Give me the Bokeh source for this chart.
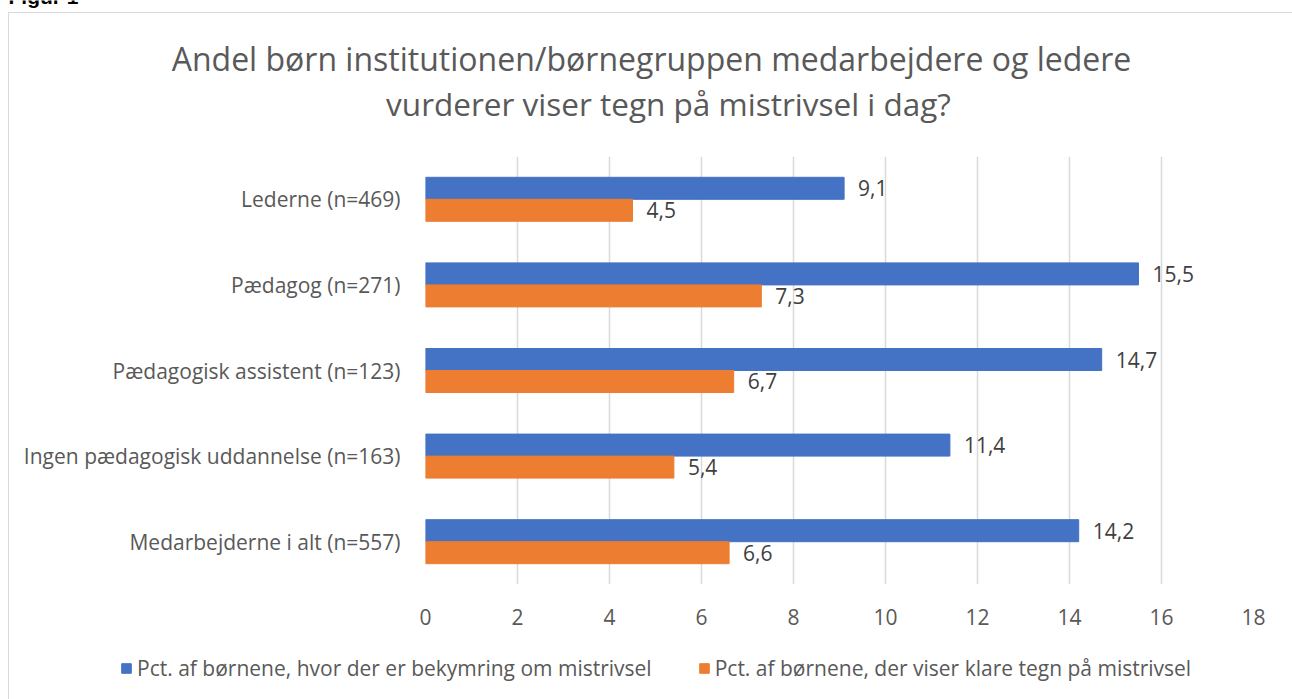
from bokeh.plotting import figure
from bokeh.models import (ColumnDataSource, FactorRange, Range1d, LabelSet, Label, Legend,
                          LegendItem, FixedTicker)
from bokeh.core.properties import value
from bokeh.transform import dodge
from bokeh.embed import file_html
from bokeh.resources import INLINE

categories = ["Lederne (n=469)", "Pædagog (n=271)", "Pædagogisk assistent (n=123)",
              "Ingen pædagogisk uddannelse (n=163)", "Medarbejderne i alt (n=557)"]
bekymring = [9.1, 15.5, 14.7, 11.4, 14.2]
klare_tegn = [4.5, 7.3, 6.7, 5.4, 6.6]
series_names = ["Pct. af børnene, hvor der er bekymring om mistrivsel",
                "Pct. af børnene, der viser klare tegn på mistrivsel"]
x_ticks = [0, 2, 4, 6, 8, 10, 12, 14, 16, 18]
title_lines = ["Andel børn institutionen/børnegruppen medarbejdere og ledere",
               "vurderer viser tegn på mistrivsel i dag?"]
caption = "Figur 1"

FONT = "Open Sans"
BLUE = "#4472C4"
ORANGE = "#ED7D31"
GRAY = "#595959"
W = 1292
TITLE_H, MAIN_H, LEG_H = 140, 499, 60

VLINE = "linear-gradient(#D9D9D9, #D9D9D9) 8px {top}px / 1px 100% no-repeat"
HLINE = "linear-gradient(#D9D9D9, #D9D9D9) 8px 12px / 100% 1px no-repeat"


def fmt(v):
    return f"{v:.1f}".replace(".", ",")


def bare(fig):
    fig.outline_line_color = None
    fig.grid.visible = False
    fig.background_fill_alpha = 0
    fig.border_fill_alpha = 0


# ---- title strip ----
pt = figure(width=W, height=TITLE_H, output_backend="svg", toolbar_location=None,
            x_range=Range1d(0, W), y_range=Range1d(TITLE_H, 0),
            x_axis_location=None, y_axis_location=None, min_border=0, title=None,
            styles={"background": VLINE.format(top=12) + ", " + HLINE + ", white"})
bare(pt)
pt.add_layout(Label(x=651, y=58, text=title_lines[0], text_align="center",
                    text_baseline="middle", text_font=FONT, text_font_size="32px",
                    text_color=GRAY))
pt.add_layout(Label(x=668, y=103, text=title_lines[1], text_align="center",
                    text_baseline="middle", text_font=FONT, text_font_size="31.5px",
                    text_color=GRAY))
pt.add_layout(Label(x=8, y=7, text=caption, text_align="left", text_baseline="bottom",
                    text_font="Liberation Sans", text_font_size="21px",
                    text_font_style="bold", text_color="#000000"))

# ---- main chart ----
src = ColumnDataSource(dict(
    cat=categories,
    a=bekymring, b=klare_tegn,
    la=[fmt(v) for v in bekymring], lb=[fmt(v) for v in klare_tegn],
))

p = figure(width=W, height=MAIN_H, output_backend="svg", toolbar_location=None,
           y_range=FactorRange(*reversed(categories), range_padding=0),
           x_range=Range1d(0, 18),
           min_border_left=425, min_border_right=39, min_border_top=16, min_border_bottom=55,
           title=None, styles={"background": VLINE.format(top=0) + ", white"})
p.outline_line_color = None
p.background_fill_color = "white"
p.border_fill_alpha = 0

ra = p.hbar(y=dodge("cat", 0.1285, range=p.y_range), right="a", left=0, height=0.257,
            source=src, fill_color=BLUE, line_color=BLUE)
rb = p.hbar(y=dodge("cat", -0.1285, range=p.y_range), right="b", left=0, height=0.257,
            source=src, fill_color=ORANGE, line_color=ORANGE)

for col, lab, off in (("a", "la", 0.1285), ("b", "lb", -0.1285)):
    p.add_layout(LabelSet(x=col, y=dodge("cat", off, range=p.y_range), text=lab, source=src,
                          x_offset=14, text_baseline="middle", text_align="left",
                          text_font=value(FONT), text_font_size="21px", text_color="#404040"))

p.xgrid.ticker = FixedTicker(ticks=x_ticks)
p.xgrid.grid_line_color = "#D9D9D9"
p.xgrid.grid_line_width = 1.5
p.ygrid.grid_line_color = None

p.xaxis.ticker = FixedTicker(ticks=x_ticks)
for ax in (p.xaxis[0], p.yaxis[0]):
    ax.axis_line_color = None
    ax.major_tick_line_color = None
    ax.minor_tick_line_color = None
    ax.major_label_text_font = FONT
    ax.major_label_text_font_size = "21px"
    ax.major_label_text_color = GRAY
p.xaxis.major_label_standoff = 18
p.yaxis.major_label_standoff = 19

# ---- legend strip (legend swatches take the series colours) ----
pl = figure(width=W, height=LEG_H, output_backend="svg", toolbar_location=None,
            x_range=Range1d(0, 1), y_range=Range1d(0, 1),
            x_axis_location=None, y_axis_location=None, min_border=0, title=None,
            styles={"background": VLINE.format(top=0) + ", white"})
bare(pl)
key_src = ColumnDataSource(dict(y=[0.5], left=[0], right=[0]))
da = pl.hbar(y="y", left="left", right="right", height=0.5, source=key_src,
             fill_color=BLUE, line_color=BLUE, visible=False)
db = pl.hbar(y="y", left="left", right="right", height=0.5, source=key_src,
             fill_color=ORANGE, line_color=ORANGE, visible=False)
legend = Legend(items=[LegendItem(label=series_names[0], renderers=[da]),
                       LegendItem(label=series_names[1], renderers=[db])],
                orientation="horizontal", location=(120, 17),
                glyph_width=12, glyph_height=12, label_standoff=5, spacing=46,
                label_text_font=FONT, label_text_font_size="21px", label_text_color=GRAY,
                inactive_fill_alpha=0,
                border_line_color=None, background_fill_alpha=0, margin=0, padding=0)
pl.add_layout(legend, "center")

open("out.html", "w").write(file_html([pt, p, pl], INLINE))
